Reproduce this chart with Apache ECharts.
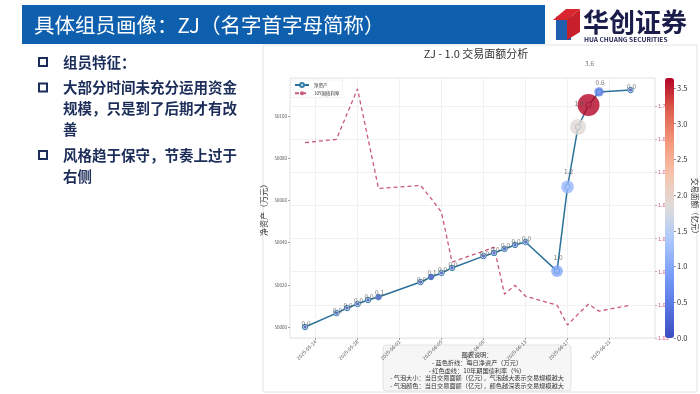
<!DOCTYPE html>
<html><head><meta charset="utf-8">
<script src="https://cdn.jsdelivr.net/npm/echarts@6/dist/echarts.min.js"></script>
<style>html,body{margin:0;padding:0;background:#fff}#c{width:700px;height:394px}</style>
</head><body><div id="c"></div>
<script>
// ---- data ----
const baseDate = '2025-05-23';
const pointDates = ['2025-05-23','2025-05-26','2025-05-27','2025-05-28','2025-05-29','2025-05-30',
  '2025-06-03','2025-06-04','2025-06-05','2025-06-06','2025-06-09','2025-06-10','2025-06-11','2025-06-12','2025-06-13',
  '2025-06-16','2025-06-17','2025-06-18','2025-06-19','2025-06-20','2025-06-23'];
const netAsset = [50000.0,50006.6,50009.0,50010.9,50012.8,50014.2,
  50021.3,50023.7,50025.6,50028.0,50033.6,50035.1,50037.0,50038.9,50040.3,
  50026.5,50066.4,50094.8,50105.2,50111.4,50112.3];
const bondRate = [1.6889,1.6899,1.6976,1.7051,1.6901,1.6751,
  1.6760,1.6721,1.6679,1.6529,1.6562,1.6574,1.6432,1.6459,1.6426,
  1.6399,1.6339,1.6372,1.6402,1.6381,1.6399];
const tradeAmt = [0.0,0.0,0.0,0.0,0.0,0.1,
  0.0,0.1,0.0,0.0,0.0,0.0,0.0,0.0,0.0,
  1.0,1.2,1.9,3.64,0.6,0.0];
const xTickLabels = ['2025-05-24','2025-05-28','2025-06-01','2025-06-05','2025-06-09','2025-06-13','2025-06-17','2025-06-21'];
const leftTicks = [50000,50020,50040,50060,50080,50100];
const rightTicks = [1.63,1.64,1.65,1.66,1.67,1.68,1.69,1.70];
const colorbarTicks = [0,0.5,1.0,1.5,2.0,2.5,3.0,3.5];
const bulletLines = [
  ['组员特征：'],
  ['大部分时间未充分运用资金','规模，只是到了后期才有改','善'],
  ['风格趋于保守，节奏上过于','右侧']
];
const noteLines = ['图表说明：','- 蓝色折线：每日净资产（万元）','- 红色虚线：10年期国债利率（%）',
  '- 气泡大小：当日交易面额（亿元），气泡越大表示交易规模越大','- 气泡颜色：当日交易面额（亿元），颜色越深表示交易规模越大'];

// ---- helpers ----
const DAY = 86400000;
const t0 = Date.parse(baseDate);
const toDay = s => (Date.parse(s) - t0) / DAY;
const fmtDay = v => new Date(t0 + Math.round(v) * DAY).toISOString().slice(0, 10);
const xs = pointDates.map(toDay);
const FONT = '"Noto Sans CJK SC", "Noto Sans", sans-serif';
const coolwarm = ['#3b4cc0','#5977e3','#7b9ff9','#aac7fd','#dddcdc','#f5c4ad','#f49a7b','#de604d','#b40426'];

const lineData = xs.map((x, i) => [x, netAsset[i]]);
const rateData = xs.map((x, i) => [x, bondRate[i]]);
const bubbleData = xs.map((x, i) => ({
  value: [x, netAsset[i], tradeAmt[i]],
  label: { offset: [1, -(3 + 10.7 * tradeAmt[i])] }
}));

// ---- slide graphics ----
const graphics = [
  { type: 'rect', shape: { x: 22, y: 5, width: 523, height: 39 }, style: { fill: '#0e5fae' } },
  { type: 'text', x: 34, y: 25, style: { text: '具体组员画像：ZJ（名字首字母简称）', fill: '#fff', font: '20.5px ' + FONT, verticalAlign: 'middle' } },
  { type: 'polygon', shape: { points: [[556, 17], [571, 9], [571, 40], [556, 40]] }, style: { fill: '#1f5fae' } },
  { type: 'polygon', shape: { points: [[553, 20], [566, 9], [580, 9], [567, 20]] }, style: { fill: '#d9262e' } },
  { type: 'polygon', shape: { points: [[567, 20], [580, 9], [580, 32], [567, 40]] }, style: { fill: '#c8202a' } },
  { type: 'text', x: 583, y: 22, style: { text: '华创证券', fill: '#1a1d4a', font: 'bold 26px ' + FONT, verticalAlign: 'middle' } },
  { type: 'text', x: 584, y: 39, style: { text: 'HUA CHUANG SECURITIES', fill: '#1a1d4a', font: 'bold 6.6px ' + FONT, verticalAlign: 'middle' } },
  { type: 'rect', shape: { x: 263, y: 45, width: 434, height: 347 }, style: { fill: 'none', stroke: '#e2e2e2', lineWidth: 1 } },
  { type: 'text', x: 476, y: 54, style: { text: 'ZJ - 1.0 交易面额分析', fill: '#333', font: '11px ' + FONT, align: 'center', verticalAlign: 'middle' } },
  { type: 'rect', shape: { x: 383, y: 345, width: 188, height: 46, r: 3 }, style: { fill: '#f6f6f6', stroke: '#dedede', lineWidth: 0.8 } }
];
let by = 62;
bulletLines.forEach((grp) => {
  graphics.push({ type: 'rect', shape: { x: 39, y: by - 4, width: 8, height: 8 }, style: { fill: 'none', stroke: '#1c2d5a', lineWidth: 2 } });
  grp.forEach((ln) => {
    graphics.push({ type: 'text', x: 63, y: by, style: { text: ln, fill: '#1c2d5a', font: 'bold 14.5px ' + FONT, verticalAlign: 'middle' } });
    by += 21;
  });
  by += 4.5;
});
noteLines.forEach((ln, i) => {
  graphics.push({ type: 'text', x: 477, y: 355 + i * 7.6, style: { text: ln, fill: '#333', font: '6.2px ' + FONT, align: 'center', verticalAlign: 'middle' } });
});

const chart = echarts.init(document.getElementById('c'), null, { renderer: 'canvas' });
chart.setOption({
  animation: false,
  backgroundColor: '#fff',
  textStyle: { fontFamily: FONT },
  graphic: graphics,
  grid: { left: 290, top: 78, width: 365, height: 260, outerBoundsMode: 'none', containLabel: false,
    show: true, borderColor: '#dcdcdc', borderWidth: 0.8, backgroundColor: '#fff' },
  legend: {
    data: ['净资产', '10Y国债利率'], orient: 'vertical', left: 291, top: 80,
    itemWidth: 14, itemHeight: 5, itemGap: 3, padding: [2, 3],
    borderColor: '#e4e4e4', borderWidth: 0.5, backgroundColor: '#fff',
    textStyle: { fontSize: 4.5, color: '#333' }
  },
  xAxis: {
    type: 'value', min: -1.43, max: 33.33,
    axisLine: { show: false, onZero: false },
    axisTick: { show: true, length: 2, lineStyle: { color: '#666', width: 0.6 }, customValues: xTickLabels.map(toDay) },
    axisLabel: { rotate: 45, fontSize: 5, color: '#555', margin: 3, customValues: xTickLabels.map(toDay), formatter: v => fmtDay(v) },
    splitLine: { show: true, lineStyle: { color: '#ededed', width: 0.8 } }
  },
  yAxis: [
    {
      type: 'value', position: 'left', min: 49994.8, max: 50118,
      name: '净资产（万元）', nameLocation: 'middle', nameRotate: 90, nameGap: 22, nameMoveOverlap: false,
      nameTextStyle: { fontSize: 8, color: '#333' },
      axisLine: { show: false, onZero: false },
      axisTick: { show: true, length: 2, lineStyle: { color: '#666', width: 0.6 }, customValues: leftTicks },
      axisLabel: { fontSize: 4.5, color: '#555', margin: 3, customValues: leftTicks, formatter: v => String(Math.round(v)) },
      splitLine: { show: false }
    },
    {
      type: 'value', position: 'right', min: 1.63, max: 1.7084,
      axisLine: { show: false, onZero: false },
      axisTick: { show: true, length: 2, lineStyle: { color: '#d0607a', width: 0.6 }, customValues: rightTicks },
      axisLabel: { fontSize: 5.5, color: '#d0607a', margin: 3, customValues: rightTicks, formatter: v => v.toFixed(2) },
      splitLine: { show: true, lineStyle: { color: '#ededed', width: 0.8 } }
    },
    {
      type: 'value', position: 'right', offset: 19, min: 0, max: 3.64,
      name: '交易面额（亿元）', nameLocation: 'middle', nameRotate: -90, nameGap: 17, nameMoveOverlap: false,
      nameTextStyle: { fontSize: 7.5, color: '#333' },
      axisLine: { show: false, onZero: false },
      axisTick: { show: true, length: 2, lineStyle: { color: '#444', width: 0.6 }, customValues: colorbarTicks },
      axisLabel: { fontSize: 7.5, color: '#333', margin: 3, customValues: colorbarTicks, formatter: v => v.toFixed(1) },
      splitLine: { show: false }
    }
  ],
  visualMap: {
    type: 'continuous', min: 0, max: 3.64, dimension: 2, seriesIndex: 2,
    inRange: { color: coolwarm }, left: 665, top: 78, itemWidth: 9, itemHeight: 260,
    padding: 0, calculable: false, hoverLink: false, show: true
  },
  series: [
    {
      name: '净资产', type: 'line', data: lineData, yAxisIndex: 0,
      symbol: 'circle', symbolSize: 5.5, showSymbol: true,
      lineStyle: { color: '#2b7199', width: 1.5 },
      itemStyle: { color: '#dfeaf5', borderColor: '#3a7fa8', borderWidth: 1 },
      z: 3
    },
    {
      name: '10Y国债利率', type: 'line', data: rateData, yAxisIndex: 1,
      symbol: 'none', lineStyle: { color: '#c95a78', width: 1.3, type: [4, 3] },
      itemStyle: { color: '#c95a78' }, z: 2
    },
    {
      name: 'bubbles', type: 'scatter', data: bubbleData, yAxisIndex: 0,
      symbolSize: v => 2 * Math.sqrt(2.5 + 32.5 * v[2]),
      itemStyle: { opacity: 0.8 },
      label: { show: true, position: 'inside', fontSize: 6.5, color: '#555', formatter: p => p.value[2].toFixed(1) },
      z: 4
    }
  ]
});
</script></body></html>
